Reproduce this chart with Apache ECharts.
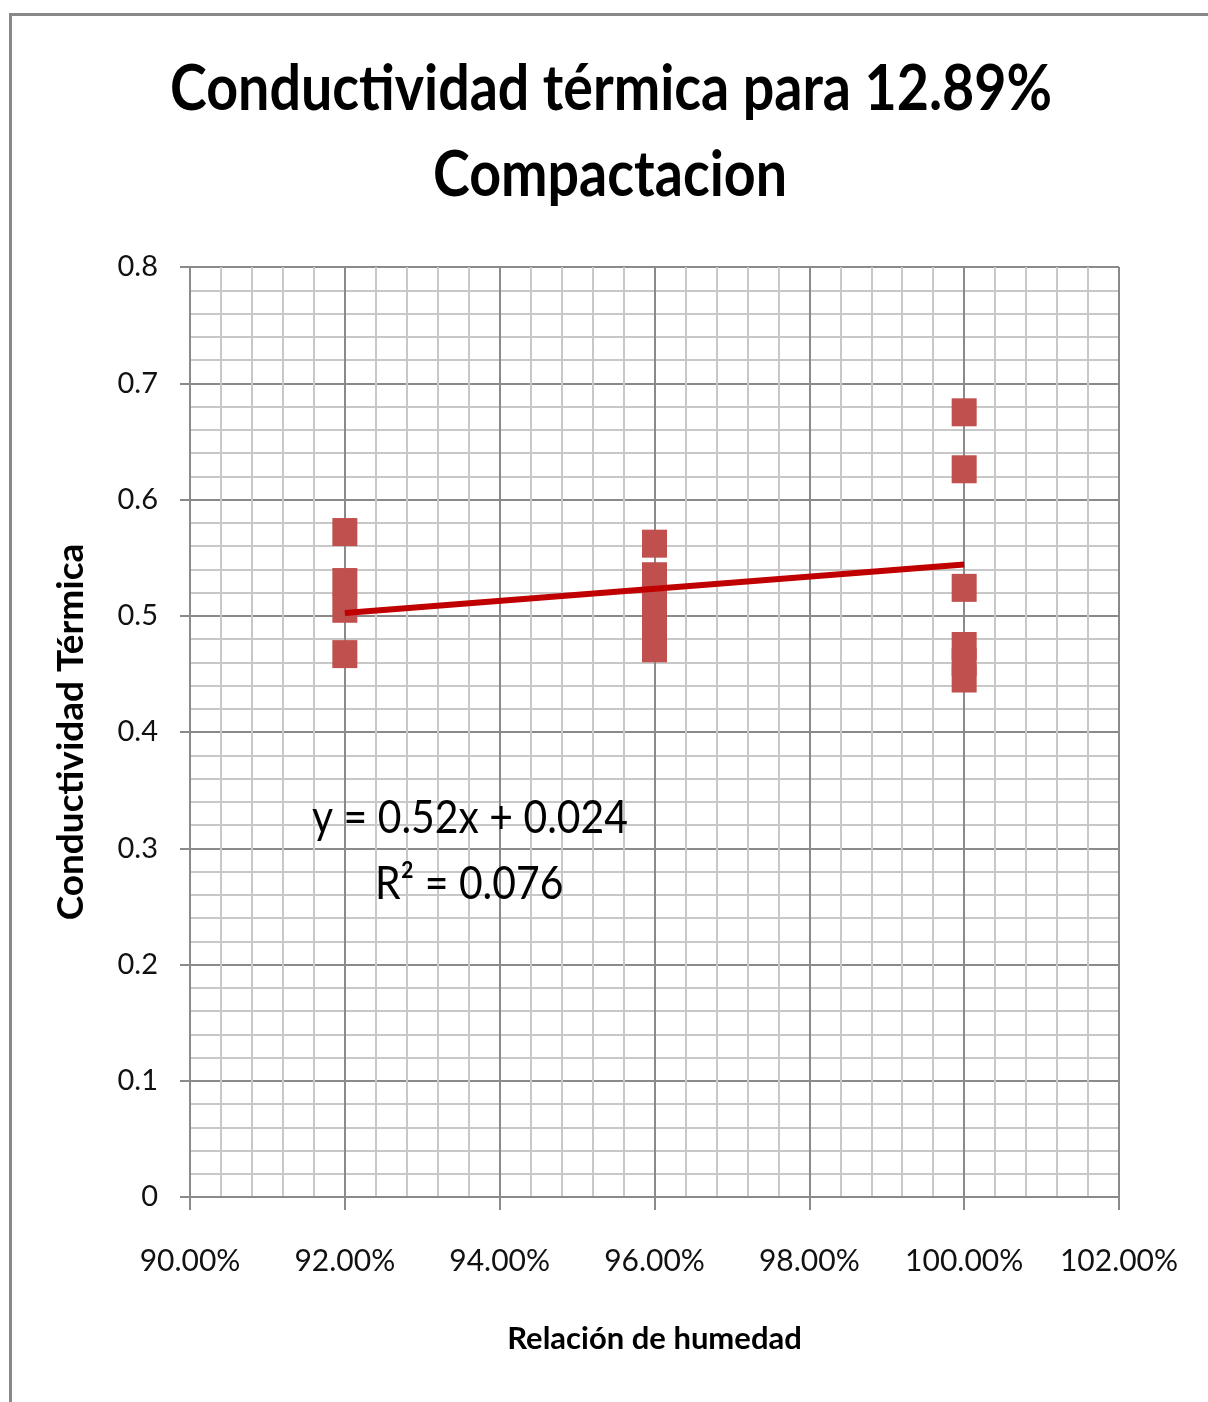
<!DOCTYPE html>
<html>
<head>
<meta charset="utf-8">
<style>
  html, body { margin: 0; padding: 0; background: #fff; }
  #chart { width: 1208px; height: 1402px; }
</style>
<script src="https://cdn.jsdelivr.net/npm/echarts@6/dist/echarts.min.js"></script>
</head>
<body>
<div id="chart"></div>
<script>
// Humidity ratio of each test group
const humidity = [0.92, 0.96, 1.00];

// Measured thermal conductivity for each humidity group
const conductivity92 = [0.572, 0.529, 0.506, 0.467];
const conductivity96 = [0.562, 0.534, 0.512, 0.492, 0.472];
const conductivity100 = [0.675, 0.626, 0.524, 0.474, 0.460, 0.446];

// Linear trend fitted to the measurements
const trendSlope = 0.52;
const trendIntercept = 0.024;
const trendR2 = 0.076;

// Axis tick values
const xTicks = [0.90, 0.92, 0.94, 0.96, 0.98, 1.00, 1.02];
const yTicks = [0, 0.1, 0.2, 0.3, 0.4, 0.5, 0.6, 0.7, 0.8];

const FONT = 'Lato, "Open Sans", sans-serif';

// Horizontal squeeze needed so a string set in `font` spans `width` pixels
const measureCtx = document.createElement('canvas').getContext('2d');
function squeeze(text, font, width) {
  measureCtx.font = font;
  return width / measureCtx.measureText(text).width;
}

const groups = [conductivity92, conductivity96, conductivity100];
const points = [];
groups.forEach((vals, i) => vals.forEach(v => points.push([humidity[i], v])));

const xMin = humidity[0];
const xMax = humidity[humidity.length - 1];
const trendLine = [
  [xMin, trendSlope * xMin + trendIntercept],
  [xMax, trendSlope * xMax + trendIntercept]
];

const titleLines = ['Conductividad térmica para 12.89%', 'Compactacion'];
const titleFont = 'bold 64px ' + FONT;
const titleScale = squeeze(titleLines[0], titleFont, 882);

const eqLines = ['y = ' + trendSlope + 'x + ' + trendIntercept, 'R² = ' + trendR2];
const eqFont = '46px ' + FONT;
const eqScale = squeeze(eqLines[0], eqFont, 316);

function stretchedText(text, font, sx, x, y, align) {
  return {
    type: 'text',
    x: x,
    y: y,
    scaleX: sx,
    scaleY: 1,
    style: {
      text: text,
      font: font,
      fill: '#000',
      align: align,
      verticalAlign: 'middle'
    },
    silent: true,
    z: 50
  };
}

const chart = echarts.init(document.getElementById('chart'), null, { renderer: 'canvas' });

const majorColor = '#8a8a8a';
const minorColor = '#c8c8c8';

chart.setOption({
  animation: false,
  backgroundColor: '#ffffff',
  grid: { left: 190, top: 267, right: 89, bottom: 205 },
  xAxis: {
    type: 'value',
    min: xTicks[0],
    max: xTicks[xTicks.length - 1],
    interval: 0.02,
    name: 'Relación de humedad',
    nameLocation: 'middle',
    nameGap: 126,
    nameTextStyle: { fontFamily: FONT, fontWeight: 'bold', fontSize: 31, color: '#000' },
    axisLine: { show: true, onZero: false, lineStyle: { color: majorColor, width: 2 } },
    axisTick: { show: true, length: 13, lineStyle: { color: majorColor, width: 2 } },
    axisLabel: {
      margin: 49,
      fontFamily: FONT,
      fontSize: 30,
      color: '#111',
      formatter: v => (v * 100).toFixed(2) + '%'
    },
    splitLine: { show: true, lineStyle: { color: majorColor, width: 2 } },
    minorTick: { show: false, splitNumber: 5 },
    minorSplitLine: { show: true, lineStyle: { color: minorColor, width: 2 } }
  },
  yAxis: {
    type: 'value',
    min: yTicks[0],
    max: yTicks[yTicks.length - 1],
    interval: 0.1,
    name: 'Conductividad Térmica',
    nameLocation: 'middle',
    nameGap: 100,
    nameTextStyle: { fontFamily: FONT, fontWeight: 'bold', fontSize: 37, color: '#000' },
    axisLine: { show: true, onZero: false, lineStyle: { color: majorColor, width: 2 } },
    axisTick: { show: true, length: 10, lineStyle: { color: majorColor, width: 2 } },
    axisLabel: {
      margin: 32,
      fontFamily: FONT,
      fontSize: 29,
      color: '#111'
    },
    splitLine: { show: true, lineStyle: { color: majorColor, width: 2 } },
    minorTick: { show: false, splitNumber: 5 },
    minorSplitLine: { show: true, lineStyle: { color: minorColor, width: 2 } }
  },
  series: [
    {
      name: 'Conductividad',
      type: 'scatter',
      symbol: 'rect',
      symbolSize: [25, 28],
      itemStyle: { color: '#c0504d', opacity: 1 },
      data: points,
      z: 3
    },
    {
      name: 'Tendencia',
      type: 'line',
      data: trendLine,
      symbol: 'none',
      lineStyle: { color: '#c00000', width: 6 },
      z: 4
    }
  ],
  graphic: [
    {
      type: 'rect',
      left: 8,
      top: 12,
      shape: { width: 1400, height: 1600 },
      style: { fill: 'none', stroke: '#888888', lineWidth: 3 },
      silent: true,
      z: 100
    },
    stretchedText(titleLines[0], titleFont, titleScale, 611, 89, 'center'),
    stretchedText(titleLines[1], titleFont, titleScale, 610, 175, 'center'),
    stretchedText(eqLines[0], eqFont, eqScale, 312, 818, 'left'),
    stretchedText(eqLines[1], eqFont, eqScale, 375, 884, 'left')
  ]
});
</script>
</body>
</html>
